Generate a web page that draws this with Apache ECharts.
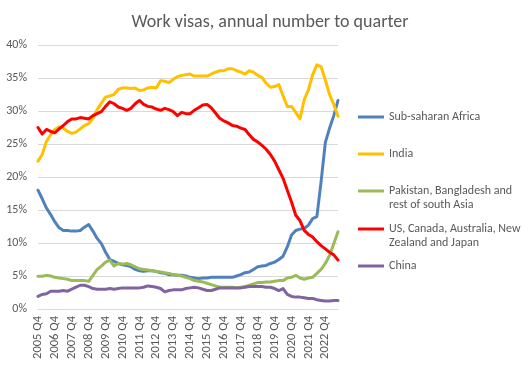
<!DOCTYPE html>
<html>
<head>
<meta charset="utf-8">
<script src="https://cdn.jsdelivr.net/npm/echarts@6/dist/echarts.min.js"></script>
<style>html,body{margin:0;padding:0;background:#fff}#c{width:528px;height:366px}</style>
</head>
<body>
<div id="c"></div>
<script>
// Quarterly categories 2005 Q4 .. 2023 Q3
var categories = [];
(function(){ var y=2005,q=4; for (var i=0;i<72;i++){ categories.push(y+' Q'+q); q++; if(q>4){q=1;y++;} } })();

var subSaharanAfrica = [18.0,16.7,15.3,14.3,13.2,12.3,11.9,11.9,11.8,11.8,11.9,12.4,12.8,11.8,10.7,9.9,
  8.6,7.5,7.2,6.9,6.7,6.6,6.4,6.0,5.8,5.7,5.8,5.8,5.7,5.5,5.4,5.2,5.2,5.1,5.1,5.0,
  4.8,4.7,4.6,4.7,4.7,4.8,4.8,4.8,4.8,4.8,4.8,5.0,5.2,5.5,5.6,6.0,6.4,6.5,6.6,6.9,
  7.1,7.5,8.0,9.4,11.2,11.9,12.1,12.2,12.7,13.7,14.0,19.3,25.2,27.4,29.3,31.6];
var india = [22.4,23.4,25.4,26.4,27.2,27.6,27.4,26.9,26.6,26.8,27.3,27.8,28.1,28.9,30.2,31.2,
  32.1,32.3,32.5,33.3,33.5,33.5,33.4,33.5,33.1,33.2,33.5,33.6,33.5,34.6,34.5,34.3,34.8,35.2,35.4,35.5,
  35.6,35.3,35.3,35.3,35.3,35.6,35.9,36.1,36.1,36.4,36.4,36.1,35.9,35.6,36.1,35.9,35.4,35.1,34.2,33.6,
  33.7,34.0,32.3,30.7,30.7,29.8,28.8,31.7,33.2,35.5,37.0,36.7,34.7,32.5,31.0,29.2];
var southAsia = [4.95,4.95,5.1,5.0,4.8,4.7,4.6,4.5,4.3,4.3,4.3,4.3,4.2,5.1,6.0,6.5,
  7.1,7.4,6.5,6.9,6.8,6.9,6.7,6.4,6.1,6.0,5.9,5.8,5.7,5.6,5.5,5.4,5.2,5.1,5.0,4.8,
  4.6,4.3,4.2,4.1,3.9,3.7,3.5,3.3,3.3,3.3,3.3,3.2,3.3,3.4,3.6,3.8,4.0,4.0,4.1,4.1,
  4.2,4.3,4.3,4.7,4.8,5.1,4.7,4.5,4.7,4.8,5.4,6.0,6.9,8.1,9.9,11.7];
var usEtc = [27.5,26.5,27.2,26.9,26.7,27.3,27.8,28.4,28.8,28.8,29.0,28.9,28.8,29.3,29.6,29.9,
  30.7,31.4,31.1,30.6,30.4,30.1,30.4,31.1,31.6,31.0,30.7,30.6,30.3,30.1,30.4,30.2,29.9,29.3,29.8,29.6,
  29.6,30.1,30.5,30.9,31.0,30.5,29.7,28.9,28.5,28.2,27.8,27.7,27.4,27.2,26.4,25.7,25.3,24.8,24.2,23.4,
  22.4,21.1,19.8,18.0,16.2,14.2,13.4,11.9,11.3,10.9,10.2,9.6,9.1,8.6,8.2,7.4];
var china = [1.9,2.2,2.3,2.7,2.7,2.7,2.8,2.7,3.0,3.3,3.6,3.6,3.4,3.1,3.0,3.0,
  3.0,3.1,3.0,3.1,3.2,3.2,3.2,3.2,3.2,3.3,3.5,3.4,3.3,3.1,2.6,2.8,2.9,2.9,2.9,3.1,
  3.2,3.3,3.2,3.0,2.8,2.8,3.0,3.2,3.2,3.2,3.2,3.2,3.2,3.3,3.4,3.4,3.4,3.4,3.3,3.3,
  3.1,2.8,3.1,2.2,1.9,1.8,1.8,1.7,1.6,1.6,1.4,1.3,1.2,1.2,1.3,1.3];

var seriesNames = ['Sub-saharan Africa','India','Pakistan, Bangladesh and\nrest of south Asia','US, Canada, Australia, New\nZealand and Japan','China'];
var seriesData = [subSaharanAfrica, india, southAsia, usEtc, china];
var colors = ['#4F81BD','#FFC000','#9BBB59','#FF0000','#8064A2'];
var legendLineY = [117,154,191,229,266];

var FONT = 'Carlito, "Liberation Sans", sans-serif';
var series = seriesData.map(function(d,k){
  return {name: seriesNames[k], type:'line', data:d, symbol:'none', smooth:false,
    lineStyle:{width:3, color:colors[k], cap:'round', join:'round'}, itemStyle:{color:colors[k]}};
});
var legends = seriesNames.map(function(n,k){
  var multi = n.indexOf('\n')>=0;
  return {data:[n], orient:'vertical', left:358, top: multi ? legendLineY[k]-21 : legendLineY[k]-7, padding:0,
    icon:'rect', itemWidth:26, itemHeight:3,
    formatter: function(name){ return multi ? '\n'+name : name; },
    textStyle:{color:'#595959', fontSize:12, fontFamily:FONT, lineHeight:14}};
});

var chart = echarts.init(document.getElementById('c'), null, {renderer:'canvas'});
chart.setOption({
  animation:false,
  color: colors,
  title:{text:'Work visas, annual number to quarter', left:265, textAlign:'center', top:8,
    textStyle:{color:'#595959', fontSize:18, fontWeight:'normal', fontFamily:FONT}},
  legend: legends,
  grid:{left:38, right:190, top:45, bottom:57, containLabel:false},
  xAxis:{type:'category', data:categories, boundaryGap:false,
    axisLine:{lineStyle:{color:'#D9D9D9'}}, axisTick:{show:false},
    axisLabel:{interval:3, rotate:90, color:'#595959', fontSize:12.5, fontFamily:FONT, margin:7}},
  yAxis:{type:'value', min:0, max:40, interval:5,
    axisLine:{show:false}, axisTick:{show:false},
    splitLine:{lineStyle:{color:'#D9D9D9'}},
    axisLabel:{formatter:'{value}%', color:'#595959', fontSize:12, fontFamily:FONT, margin:11}},
  series: series
});
</script>
</body>
</html>
